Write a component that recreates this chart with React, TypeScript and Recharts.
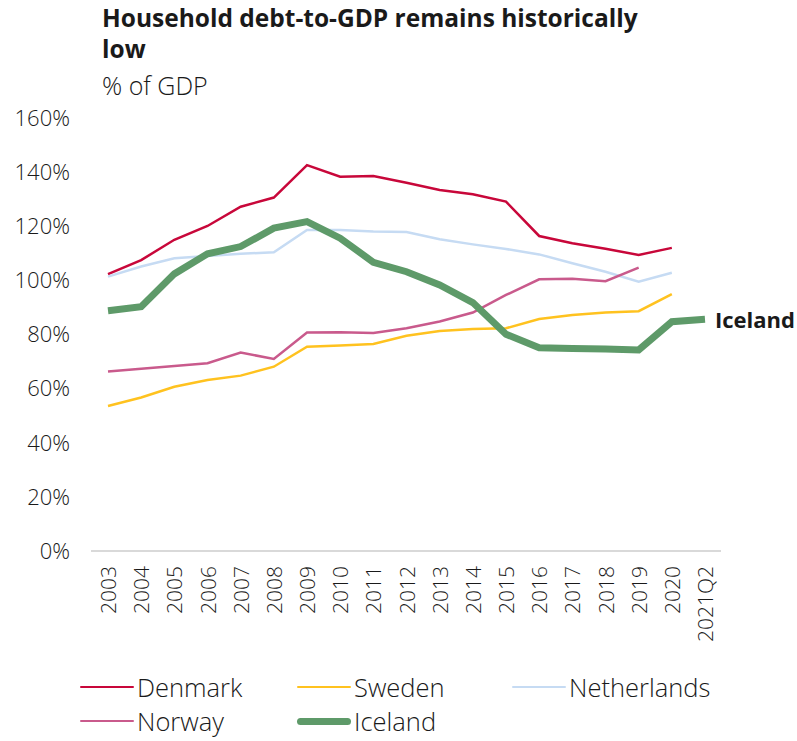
import { LineChart, Line, XAxis, YAxis } from 'recharts';

const years = [
  '2003', '2004', '2005', '2006', '2007', '2008', '2009', '2010', '2011', '2012',
  '2013', '2014', '2015', '2016', '2017', '2018', '2019', '2020', '2021Q2',
];

const denmark = [102.3, 107.5, 115, 120.1, 127.2, 130.6, 142.6, 138.3, 138.6, 136.1, 133.4, 131.8, 129.1, 116.4, 113.7, 111.7, 109.4, 112, null];
const sweden = [53.6, 56.7, 60.7, 63.2, 64.8, 68.1, 75.5, 75.9, 76.5, 79.5, 81.3, 82, 82.3, 85.7, 87.2, 88.1, 88.6, 94.9, null];
const netherlands = [101.4, 105.1, 108.2, 109, 109.8, 110.4, 118.6, 118.6, 118.1, 117.9, 115.2, 113.3, 111.6, 109.6, 106.3, 103.2, 99.5, 102.8, null];
const norway = [66.3, 67.3, 68.4, 69.4, 73.3, 71, 80.7, 80.8, 80.6, 82.3, 84.8, 88.1, 94.6, 100.4, 100.6, 99.7, 104.7, null, null];
const iceland = [88.8, 90.3, 102.4, 109.8, 112.5, 119.3, 121.7, 115.6, 106.7, 103.2, 98.3, 91.8, 80.1, 75.1, 74.8, 74.6, 74.3, 84.7, 85.6];

const yTicks = [0, 20, 40, 60, 80, 100, 120, 140, 160];

const data = years.map((year, i) => ({
  year,
  Denmark: denmark[i],
  Sweden: sweden[i],
  Netherlands: netherlands[i],
  Norway: norway[i],
  Iceland: iceland[i],
}));

const FONT = '"Open Sans", sans-serif';
const TEXT = '#1a1a1a';

const series = [
  { key: 'Denmark', color: '#c8073a', width: 2.5 },
  { key: 'Sweden', color: '#ffc21f', width: 2.5 },
  { key: 'Netherlands', color: '#c6dbf3', width: 2.5 },
  { key: 'Norway', color: '#c95a8c', width: 2.5 },
  { key: 'Iceland', color: '#5e9a69', width: 7 },
];

const legendPos = [
  { key: 'Denmark', x: 80, y: 687 },
  { key: 'Sweden', x: 297, y: 687 },
  { key: 'Netherlands', x: 512, y: 687 },
  { key: 'Norway', x: 80, y: 721 },
  { key: 'Iceland', x: 297, y: 721 },
];

function YearTick({ x, y, payload }: any) {
  return (
    <text
      transform={`translate(${x},${y + 7}) rotate(-90)`}
      textAnchor="end"
      dominantBaseline="central"
      fontSize={21}
      fontFamily={FONT}
      fontWeight={300}
      fill={TEXT}
    >
      {payload.value}
    </text>
  );
}

function icelandLabel(props: any) {
  const { x, y, index } = props;
  if (index !== years.length - 1) return null;
  return (
    <text x={x + 10} y={y} dominantBaseline="central" fontSize={22} fontWeight={700} fontFamily={FONT} fill={TEXT}>
      Iceland
    </text>
  );
}

export default function App() {
  return (
    <div style={{ position: 'absolute', left: 0, top: 0, width: 797, height: 741, background: '#fff', fontFamily: FONT, color: TEXT, overflow: 'hidden' }}>
      <div style={{ position: 'absolute', left: 102, top: 2, width: 690, fontSize: 24.5, fontWeight: 700, lineHeight: '31px' }}>
        Household debt-to-GDP remains historically<br />low
      </div>
      <div style={{ position: 'absolute', left: 102, top: 68, fontSize: 25, fontWeight: 300 }}>% of GDP</div>

      <LineChart width={797} height={741} data={data} margin={{ top: 118, right: 76, left: 0, bottom: 90 }}>
        <XAxis
          dataKey="year"
          interval={0}
          height={100}
          padding={{ left: 17, right: 16 }}
          tickLine={false}
          axisLine={{ stroke: '#d9d9d9', strokeWidth: 2 }}
          tick={<YearTick />}
        />
        <YAxis
          domain={[0, 160]}
          ticks={yTicks}
          width={91}
          axisLine={false}
          tickLine={false}
          tickMargin={15}
          tickFormatter={(v) => `${v}%`}
          tick={{ fontSize: 22, fontFamily: FONT, fontWeight: 300, fill: TEXT }}
        />
        {series.map((s) => (
          <Line
            key={s.key}
            dataKey={s.key}
            stroke={s.color}
            strokeWidth={s.width}
            dot={false}
            type="linear"
            isAnimationActive={false}
            label={s.key === 'Iceland' ? icelandLabel : undefined}
          />
        ))}
      </LineChart>

      {legendPos.map((l) => {
        const s = series.find((d) => d.key === l.key)!;
        return (
          <div key={l.key} style={{ position: 'absolute', left: l.x, top: l.y - 14, height: 28, display: 'flex', alignItems: 'center' }}>
            <div style={{ width: 54, height: s.width, background: s.color, borderRadius: s.width / 2 }} />
            <span style={{ marginLeft: 3, fontSize: 25.5, fontWeight: 300, lineHeight: '28px' }}>{l.key}</span>
          </div>
        );
      })}
    </div>
  );
}
